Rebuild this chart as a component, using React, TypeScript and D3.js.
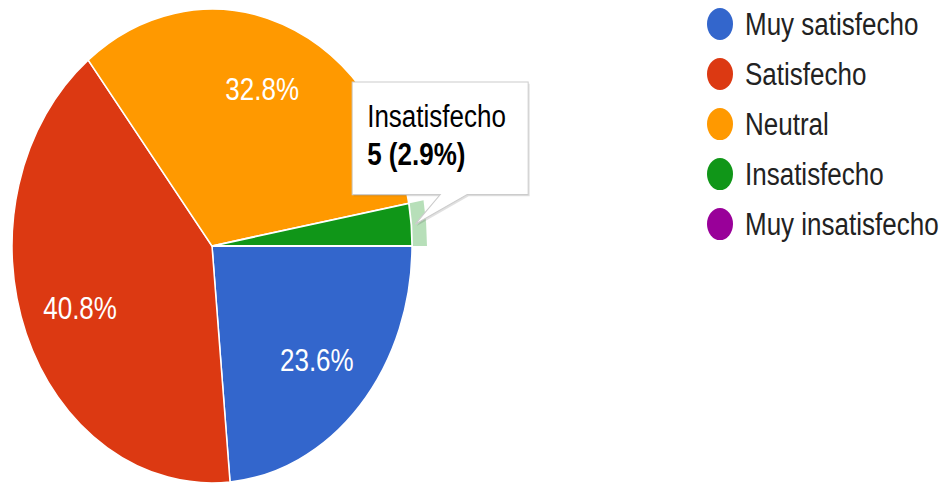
import { useEffect, useRef } from 'react'
import * as d3 from 'd3'

// survey answers (counts)
const categories = ['Muy satisfecho', 'Satisfecho', 'Neutral', 'Insatisfecho', 'Muy insatisfecho']
const counts = [41, 71, 57, 5, 0]
const colors = ['#3366cc', '#dc3912', '#ff9900', '#109618', '#990099']
const hoveredIndex = 3

const W = 946
const H = 483
const STRETCH = 1.185 // the reference picture is stretched vertically

export default function App() {
  const svgRef = useRef<SVGSVGElement>(null)

  useEffect(() => {
    const svg = svgRef.current
    if (!svg) return
    d3.select(svg).selectAll('*').remove()

    const font = '"Liberation Sans", Arial, sans-serif'
    const root = d3
      .select(svg)
      .append('g')
      .attr('transform', `scale(1,${STRETCH})`)

    const total = d3.sum(counts)
    const cx = 212
    const cy = 207.6
    const r = 200

    const pie = d3
      .pie<number>()
      .sort(null)
      .startAngle(Math.PI / 2)
      .endAngle(Math.PI / 2 + 2 * Math.PI)
    const arcs = pie(counts)
    const arc = d3.arc<d3.PieArcDatum<number>>().innerRadius(0).outerRadius(r)
    const labelArc = d3.arc<d3.PieArcDatum<number>>().innerRadius(r * 0.71).outerRadius(r * 0.71)
    const ring = d3.arc<d3.PieArcDatum<number>>().innerRadius(r + 1).outerRadius(r + 15)

    const g = root.append('g').attr('transform', `translate(${cx},${cy})`)

    g.selectAll('path.slice')
      .data(arcs.filter((d) => d.value > 0))
      .join('path')
      .attr('class', 'slice')
      .attr('d', arc)
      .attr('fill', (d) => colors[d.index])
      .attr('stroke', '#fff')
      .attr('stroke-width', 1.5)

    // hover ring on the highlighted slice
    const hov = arcs[hoveredIndex]
    g.append('path')
      .attr('d', ring(hov))
      .attr('fill', colors[hoveredIndex])
      .attr('opacity', 0.3)

    // percentage labels (only large slices)
    g.selectAll('text.pct')
      .data(arcs.filter((d) => d.value / total > 0.05))
      .join('text')
      .attr('class', 'pct')
      .attr('transform', (d) => `translate(${labelArc.centroid(d)})`)
      .attr('text-anchor', 'middle')
      .attr('dy', '0.36em')
      .attr('fill', '#fff')
      .attr('font-family', font)
      .attr('font-size', 26)
      .text((d) => `${((d.value / total) * 100).toFixed(1)}%`)

    // legend
    const legend = root.append('g').attr('transform', 'translate(720,20.3)')
    const rows = legend
      .selectAll('g')
      .data(categories)
      .join('g')
      .attr('transform', (_, i) => `translate(0,${i * 42.2})`)
    rows
      .append('ellipse')
      .attr('rx', 13)
      .attr('ry', 13.5)
      .attr('fill', (_, i) => colors[i])
    rows
      .append('text')
      .attr('x', 25)
      .attr('dy', '0.36em')
      .attr('fill', '#222')
      .attr('font-family', font)
      .attr('font-size', 26)
      .text((d) => d)

    // tooltip
    const mid = (hov.startAngle + hov.endAngle) / 2
    const tipX = cx + Math.sin(mid) * (r + 4)
    const tipY = cy - Math.cos(mid) * (r + 4)
    const bx = tipX - 63
    const by = tipY - 120
    const bw = 176
    const bh = 95
    const tip = root.append('g')
    const shape = `M${bx},${by}H${bx + bw}V${by + bh}H${tipX + 52}L${tipX},${tipY}L${tipX + 25},${by + bh}H${bx}Z`
    tip.append('path')
      .attr('d', shape)
      .attr('transform', 'translate(1.5,1.5)')
      .attr('fill', '#000')
      .attr('opacity', 0.12)
    tip.append('path')
      .attr('d', shape)
      .attr('fill', '#fff')
      .attr('stroke', '#cccccc')
      .attr('stroke-width', 1)
    tip.append('text')
      .attr('x', bx + 15)
      .attr('y', by + 38)
      .attr('fill', '#000')
      .attr('font-family', font)
      .attr('font-size', 26)
      .text(categories[hoveredIndex])
    tip.append('text')
      .attr('x', bx + 15)
      .attr('y', by + 70)
      .attr('fill', '#000')
      .attr('font-family', font)
      .attr('font-size', 26)
      .attr('font-weight', 'bold')
      .text(`${counts[hoveredIndex]} (${((counts[hoveredIndex] / total) * 100).toFixed(1)}%)`)
  }, [])

  return (
    <svg
      ref={svgRef}
      width={W}
      height={H}
      style={{ position: 'absolute', left: 0, top: 0, background: '#fff' }}
    />
  )
}
